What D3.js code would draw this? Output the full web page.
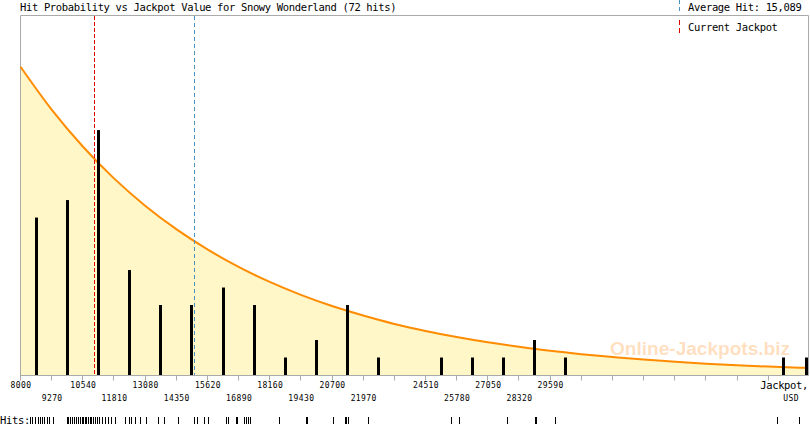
<!DOCTYPE html>
<html>
<head>
<meta charset="utf-8">
<script src="https://cdn.jsdelivr.net/npm/d3@7"></script>
<style>
  html, body { margin: 0; padding: 0; background: #fff; }
  svg { display: block; }
  text { font-family: "DejaVu Sans Mono", "Liberation Mono", monospace; }
</style>
</head>
<body>
<svg id="chart" width="810" height="425"></svg>
<script>
// ---------------- data ----------------
const gameName = "Snowy Wonderland";
const hits = [
  8420, 8500, 8625, 8745, 8830, 8910, 8990, 9115, 9195,
  9358, 9928, 9970, 10050, 10130, 10215, 10295, 10375, 10460, 10520,
  10581, 10662, 10703, 10785, 10866, 10907, 10988, 11069, 11152, 11233, 11355, 11478, 11600, 11722,
  11885, 12293, 12456, 12538, 12701, 12905,
  13137, 13610, 13855, 13883,
  14425, 15106, 15230, 15514,
  15650, 16380, 16470, 16820, 16860,
  17140, 17220, 17300, 17380,
  18570,
  19652, 19700,
  20745, 21250, 21300, 21385,
  22172,
  25572, 25910, 27867, 29009, 29050, 29825,
  38876, 39772
];
const binEdges = [8000, 9270, 10540, 11810, 13080, 14350, 15620, 16890, 18160, 19430, 20700,
  21970, 23240, 24510, 25780, 27050, 28320, 29590, 30860, 32130, 33400, 34670, 35940,
  37210, 38480, 39750, 41020];
const tickValues = binEdges.slice(0, 25);
const tickLabels = ["8000", "9270", "10540", "11810", "13080", "14350", "15620", "16890", "18160",
  "19430", "20700", "21970", "24510", "25780", "27050", "28320", "29590"];
const curveJackpot = [8000, 9270, 10540, 11810, 13080, 14350, 15620, 16890, 18160, 19430, 20700,
  21970, 23240, 24510, 25780, 27050, 28320, 29590, 30860, 32130, 33400, 34670, 35940,
  37210, 38480, 39750, 40000];
const curveExpected = [17.62, 15.17, 13.06, 11.24, 9.68, 8.34, 7.18, 6.18, 5.32, 4.58, 3.94,
  3.40, 2.92, 2.52, 2.17, 1.87, 1.61, 1.38, 1.19, 1.03, 0.88, 0.76, 0.65,
  0.56, 0.48, 0.42, 0.41];
const averageHit = 15089;
const currentJackpot = 11010;
const xDomain = [8000, 40000];
const yMax = 20.55;

// ---------------- drawing ----------------
(function () {
const svg = d3.select("#chart");
const pL = 20.5, pR = 805.5, frameRight = 808.5, pT = 15.5, base = 375;

const x = d3.scaleLinear().domain(xDomain).range([pL, pR]);
const y = d3.scaleLinear().domain([0, yMax]).range([base, pT]);

// area + curve
const pts = curveJackpot.map((v, i) => [v, curveExpected[i]]);
svg.append("path")
  .datum(pts)
  .attr("d", d3.area().x(d => x(d[0])).y0(base).y1(d => y(d[1])).curve(d3.curveMonotoneX))
  .attr("fill", "#fff7c8");

// frame
svg.append("path")
  .attr("d", `M${pL},${base + 0.5}V${pT}H${frameRight}V${base + 0.5}`)
  .attr("fill", "none").attr("stroke", "#aaaaaa").attr("stroke-width", 1);

// watermark
svg.append("text")
  .attr("x", 610).attr("y", 355)
  .attr("textLength", 180).attr("lengthAdjust", "spacingAndGlyphs")
  .style("font-family", "'Liberation Sans', Arial, sans-serif")
  .style("font-weight", "bold").style("font-size", "19px")
  .attr("fill", "#ffb870").attr("fill-opacity", 0.45)
  .text("Online-Jackpots.biz");

// curve line
svg.append("path")
  .datum(pts)
  .attr("d", d3.line().x(d => x(d[0])).y(d => y(d[1])).curve(d3.curveMonotoneX))
  .attr("fill", "none").attr("stroke", "#ff8c00").attr("stroke-width", 2);

// histogram bars
const bins = d3.bin().domain([binEdges[0], binEdges[binEdges.length - 1]])
  .thresholds(binEdges.slice(1, -1))(hits);
svg.append("g").selectAll("rect")
  .data(bins.filter(b => b.length > 0))
  .join("rect")
  .attr("x", b => Math.round(Math.min(x((b.x0 + b.x1) / 2), 806.5) - 1.5))
  .attr("width", 3)
  .attr("y", b => y(b.length))
  .attr("height", b => base - y(b.length))
  .attr("fill", "#000");

// reference lines
function vline(v, color, dash) {
  const px = Math.round(x(v)) + 0.5;
  svg.append("line").attr("x1", px).attr("x2", px).attr("y1", pT + 0.5).attr("y2", base)
    .attr("stroke", color).attr("stroke-width", 1).attr("stroke-dasharray", dash);
}
vline(currentJackpot, "#e00000", "4,2");
vline(averageHit, "#4a90c0", "4,3");

// x axis line + ticks
svg.append("line").attr("x1", pL).attr("x2", frameRight).attr("y1", base + 0.5).attr("y2", base + 0.5)
  .attr("stroke", "#aaaaaa");
svg.append("g").selectAll("line").data(tickValues).join("line")
  .attr("x1", d => Math.round(x(d) - 0.5) + 0.5).attr("x2", d => Math.round(x(d) - 0.5) + 0.5)
  .attr("y1", base).attr("y2", base + 5.5)
  .attr("stroke", "#aaaaaa");
svg.append("g").selectAll("text").data(tickLabels).join("text")
  .attr("x", d => x(+d) + 0.5)
  .attr("y", (d, i) => i % 2 === 0 ? 388 : 401)
  .attr("text-anchor", "middle")
  .style("font-size", "8px").style("letter-spacing", "0.4px")
  .attr("fill", "#000")
  .text(d => d);

svg.append("text").attr("x", 808).attr("y", 389).attr("text-anchor", "end")
  .style("font-size", "10.5px").style("letter-spacing", "-0.35px").text("Jackpot,");
svg.append("text").attr("x", 799).attr("y", 401).attr("text-anchor", "end")
  .style("font-size", "8px").style("letter-spacing", "0.4px").text("USD");

// title
svg.append("text").attr("x", 20).attr("y", 11)
  .style("font-size", "10.5px").style("letter-spacing", "-0.35px")
  .text(`Hit Probability vs Jackpot Value for ${gameName} (${hits.length} hits)`);

// legend
const lx = 679.5;
svg.append("line").attr("x1", lx).attr("x2", lx).attr("y1", 0).attr("y2", 12)
  .attr("stroke", "#4a90c0").attr("stroke-dasharray", "4,3");
svg.append("text").attr("x", 688).attr("y", 11)
  .style("font-size", "10.5px").style("letter-spacing", "-0.35px")
  .text("Average Hit: " + d3.format(",")(averageHit));
svg.append("line").attr("x1", lx).attr("x2", lx).attr("y1", 20).attr("y2", 34)
  .attr("stroke", "#e00000").attr("stroke-dasharray", "5,3");
svg.append("text").attr("x", 688).attr("y", 30.5)
  .style("font-size", "10.5px").style("letter-spacing", "-0.35px")
  .text("Current Jackpot");

// hits rug
svg.append("text").attr("x", 0).attr("y", 424)
  .style("font-size", "10.5px").style("letter-spacing", "-0.35px").text("Hits:");
svg.append("g").selectAll("line").data(hits).join("line")
  .attr("x1", d => Math.round(x(d) - 0.5) + 0.5).attr("x2", d => Math.round(x(d) - 0.5) + 0.5)
  .attr("y1", 417).attr("y2", 424)
  .attr("stroke", "#000").attr("stroke-width", 1);
})();
</script>
</body>
</html>
